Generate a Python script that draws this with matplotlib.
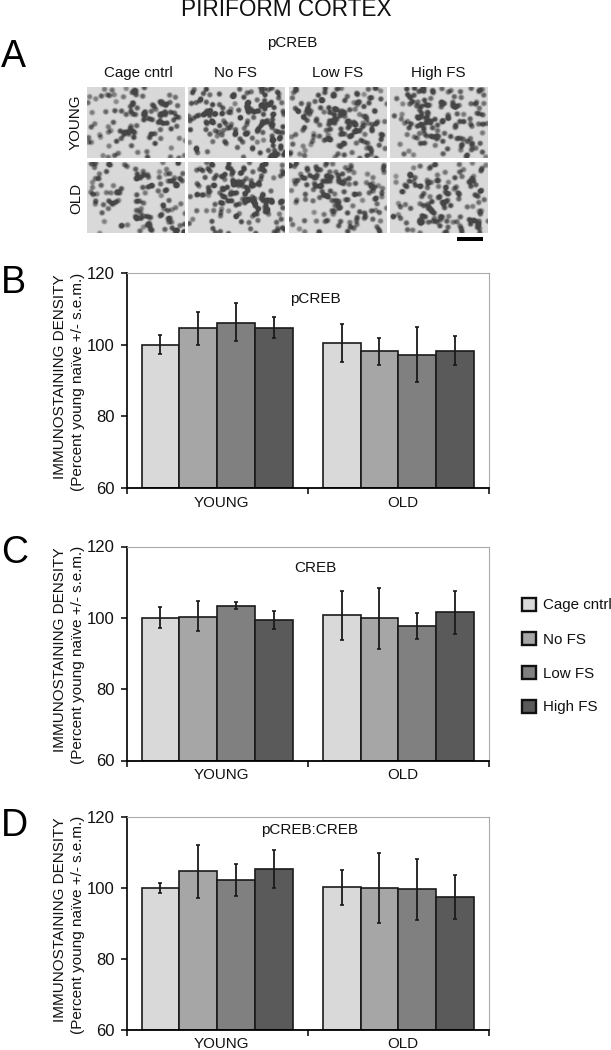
import numpy as np
import matplotlib
matplotlib.use("Agg")
import matplotlib.pyplot as plt
from matplotlib.patches import Rectangle

plt.rcParams['font.family'] = ['Liberation Sans', 'DejaVu Sans']

W, H = 611, 1050

groups = ["YOUNG", "OLD"]
conditions = ["Cage cntrl", "No FS", "Low FS", "High FS"]
colors = ["#d9d9d9", "#a6a6a6", "#808080", "#5a5a5a"]

pcreb_mean = [100, 104.6, 106, 104.6, 100.5, 98.2, 97, 98.3]
pcreb_hi = [102.6, 109.2, 111.5, 107.6, 105.7, 102, 104.9, 102.3]
pcreb_lo = [97.5, 100, 101, 101.8, 95.2, 94.2, 89.7, 94.3]

creb_mean = [100, 100.3, 103.4, 99.4, 100.7, 99.9, 97.6, 101.5]
creb_hi = [103, 104.6, 104.4, 101.9, 107.5, 108.5, 101.3, 107.5]
creb_lo = [97.1, 96.2, 102.6, 97, 93.9, 91.2, 94.2, 95.5]

ratio_mean = [100, 104.7, 102.3, 105.3, 100.2, 99.9, 99.7, 97.4]
ratio_hi = [101.4, 112, 106.9, 110.7, 105, 109.8, 108.3, 103.7]
ratio_lo = [98.6, 97.3, 97.8, 100, 95.3, 90.1, 91, 91.3]

y_ticks = [60, 80, 100, 120]

# Coarse staining density of each micrograph, read by eye (rows top to bottom)
young_cells = [
    ["3434324", "3435664", "3346775", "2257863", "2333533"],
    ["5775675", "6864786", "6665776", "2436547", "3223468"],
    ["5666434", "4777454", "3687855", "4356876", "3224666"],
    ["5876544", "4667654", "3578765", "4456874", "3334654"],
]
old_cells = [
    ["3476534", "4446765", "3566543", "3445543", "2353766"],
    ["2687653", "3677654", "3486766", "2333664", "4655567"],
    ["5666344", "4677543", "3576533", "2345654", "3455664"],
    ["2344443", "4555565", "3466565", "3576654", "2576565"],
]

fig = plt.figure(figsize=(W / 100, H / 100), dpi=100)


def add_ax(l, t, r, b):
    return fig.add_axes([l / W, 1 - b / H, (r - l) / W, (b - t) / H])


def ftext(x, y, s, size, **kw):
    kw.setdefault('ha', 'center')
    kw.setdefault('va', 'center')
    kw.setdefault('color', '#111111')
    fig.text(x / W, 1 - y / H, s, fontsize=size, **kw)


def texture(k, a, b):
    return (np.sin(k * a + b) * 43758.5453) % 1


def micrograph(grid, shift):
    """Render a cell-like texture whose local density follows the grid read by eye."""
    h, w = 71, 97
    g = np.array([[int(c) for c in row] for row in grid], dtype=float)
    yy, xx = np.mgrid[0:h, 0:w]
    img = np.zeros((h, w))
    for k in range(1, 280):
        u = texture(k, 12.9898, shift)
        v = texture(k, 78.233, shift)
        t = texture(k, 37.719, shift)
        s = texture(k, 93.989, shift)
        gi = min(int(v * g.shape[0]), g.shape[0] - 1)
        gj = min(int(u * g.shape[1]), g.shape[1] - 1)
        dens = g[gi, gj]
        if t > dens / 10:
            continue
        cx, cy = u * w, v * h
        amp = 0.35 + 0.04 * dens + 0.3 * s
        img += amp * np.exp(-((xx - cx) ** 4 + (yy - cy) ** 4 + 2 * (xx - cx) ** 2 * (yy - cy) ** 2) / (2 * 2.3 ** 4))
    return np.clip(0.85 - 0.68 * img, 0.27, 0.9)


col_x = [87, 188, 289, 390]
row_y = [87, 162]
for r, rows in enumerate([young_cells, old_cells]):
    for c, grid in enumerate(rows):
        ax = add_ax(col_x[c], row_y[r], col_x[c] + 97, row_y[r] + 71)
        ax.imshow(micrograph(grid, 0.37 * (c + 1) + 1.1 * r), cmap='gray', vmin=0, vmax=1,
                  aspect='auto', interpolation='bilinear')
        ax.axis('off')

fig.add_artist(Rectangle((457 / W, 1 - 241 / H), 26 / W, 4 / H, transform=fig.transFigure,
                         facecolor='black', edgecolor='none'))


def bar_panel(t, b, title, title_xy, mean, hi, lo):
    ax = add_ax(126.5, t, 489, b)
    w = 1 / 4.8
    for g in range(2):
        for i in range(4):
            k = g * 4 + i
            x = g + 0.5 + (i - 1.5) * w
            ax.bar(x, mean[k] - 60, w, bottom=60, color=colors[i], edgecolor='#1a1a1a', linewidth=1.2, zorder=2)
            ax.errorbar(x, mean[k], yerr=[[mean[k] - lo[k]], [hi[k] - mean[k]]], color='#1a1a1a',
                        elinewidth=1.3, capsize=1.3, capthick=1.2, zorder=3)
    ax.set_xlim(0, 2)
    ax.set_ylim(60, 120)
    ax.set_yticks(y_ticks)
    ax.set_xticks([0, 1, 2])
    ax.set_xticklabels([])
    ax.tick_params(axis='both', length=4, width=1.1, color='black', labelsize=12, pad=4.5, labelcolor='#111111')
    ax.spines['top'].set_color('#aaaaaa')
    ax.spines['right'].set_color('#aaaaaa')
    ax.spines['left'].set_linewidth(1.2)
    ax.spines['bottom'].set_linewidth(1.3)
    for g, name in enumerate(groups):
        ftext(130.5 + (g + 0.5) * 181.25, b + 14.5, name, 10.9)
    ftext(title_xy[0], title_xy[1], title, 11)
    ftext(60, (t + b) / 2 - 3.5, "IMMUNOSTAINING DENSITY", 11, rotation=90)
    ftext(78, (t + b) / 2 + 1, "(Percent young na\u00efve +/- s.e.m.)", 11, rotation=90)
    return ax


bar_panel(273, 488, "pCREB", (315, 299), pcreb_mean, pcreb_hi, pcreb_lo)
bar_panel(546.5, 760.5, "CREB", (315, 568), creb_mean, creb_hi, creb_lo)
bar_panel(817, 1030, "pCREB:CREB", (310, 830), ratio_mean, ratio_hi, ratio_lo)

ftext(286, 10, "PIRIFORM CORTEX", 16.3)
ftext(292, 43, "pCREB", 10.9)
for x, name in zip([138, 236, 338, 438], conditions):
    ftext(x, 73, name, 10.9)
ftext(76, 122, groups[0], 10.9, rotation=90)
ftext(76, 198, groups[1], 10.9, rotation=90)

for letter, y in zip("ABCD", [57, 283, 553, 826]):
    ftext(1, y, letter, 27, ha='left', color='black')

for name, col, y in zip(conditions, colors, [604, 638.5, 672.5, 706.5]):
    fig.add_artist(Rectangle((522 / W, 1 - (y + 6.5) / H), 13.5 / W, 13 / H, transform=fig.transFigure,
                             facecolor=col, edgecolor='#111111', linewidth=1.7))
    ftext(543, y + 1, name, 10.9, ha='left')

fig.savefig("out.png", dpi=100)
